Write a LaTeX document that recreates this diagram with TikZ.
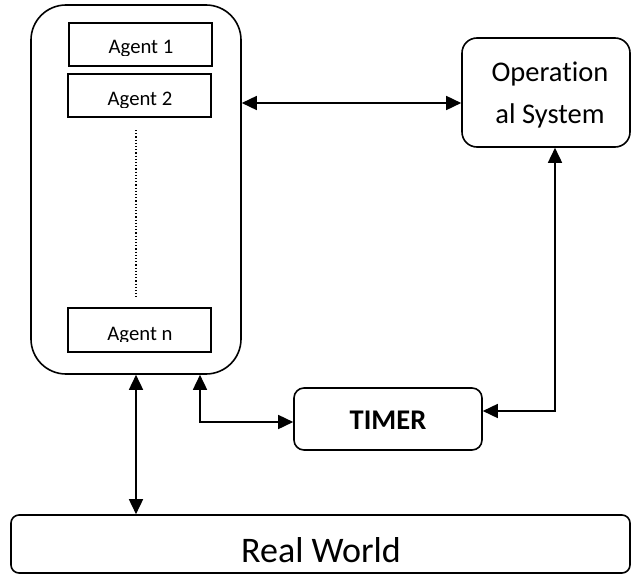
\documentclass[tikz,border=0pt]{standalone}
\usepackage{fontspec}
\setmainfont[Ligatures={NoCommon,NoRare}]{Carlito}
\usetikzlibrary{arrows.meta}

\tikzset{
  frame/.style={draw, line width=1.6pt, rounded corners=#1, inner sep=0pt},
  agentbox/.style={draw, line width=1.5pt, inner sep=0pt},
  link/.style={line width=1.6pt, {Triangle[length=15pt,width=14pt]}-{Triangle[length=15pt,width=14pt]}},
  lbl/.style={anchor=base, inner sep=0pt},
}

\begin{document}
\begin{tikzpicture}[x=1pt,y=-1pt]
  \useasboundingbox (0,0) rectangle (631,575);

  % agent container
  \node[frame=35pt, minimum width=210pt, minimum height=369pt] (cont) at (136,189.5) {};
  % agent boxes
  \node[agentbox, minimum width=143pt, minimum height=43pt] (ag1) at (140.5,44.5) {};
  \node[agentbox, minimum width=143pt, minimum height=43pt] (ag2) at (139.5,95.5) {};
  \node[agentbox, minimum width=143pt, minimum height=44pt] (agn) at (139.5,330) {};
  \begin{scope}
    \clip (70,25) rectangle (210,55.5);
    \node[lbl, font=\fontsize{20.7}{24}\selectfont] (t1) at (141,54) {Agent 1};
  \end{scope}
  \begin{scope}
    \clip (70,76) rectangle (210,107.5);
    \node[lbl, font=\fontsize{20.7}{24}\selectfont] (t2) at (140,106) {Agent 2};
  \end{scope}
  \begin{scope}
    \clip (70,310) rectangle (210,341.5);
    \node[lbl, font=\fontsize{20.7}{24}\selectfont] (tn) at (140,340) {Agent n};
  \end{scope}
  \coordinate (dtop) at (136,130);
  \coordinate (dbot) at (136,297);
  \draw[line width=1.2pt, dotted] (dtop) -- (dbot);

  % operational system
  \node[frame=15pt, minimum width=168pt, minimum height=109pt] (os) at (546,92.5) {};
  \node[lbl, font=\fontsize{28.5}{34}\selectfont] (os1) at (550,81.7) {Operation};
  \node[lbl, font=\fontsize{28.5}{34}\selectfont] (os2) at (550,123) {al System};

  % timer
  \node[frame=10pt, minimum width=188pt, minimum height=62pt] (timer) at (388,419) {};
  \node[lbl, font=\fontsize{28.5}{34}\selectfont\bfseries] (tt) at (388,429) {TIMER};

  % real world
  \node[frame=8pt, minimum width=619pt, minimum height=58pt] (rw) at (320.5,544) {};
  \node[lbl, font=\fontsize{36}{42}\selectfont] (rwt) at (321,562) {Real World};

  % connectors
  \draw[link] (cont.east |- 0,103) -- (os.west |- 0,103);
  \draw[link] (os.south -| 555,0) |- (timer.east |- 0,411);
  \draw[link] (cont.south -| 200,0) |- (timer.west |- 0,422);
  \draw[link] (cont.south) -- (rw.north -| cont.south);
\end{tikzpicture}
\end{document}
